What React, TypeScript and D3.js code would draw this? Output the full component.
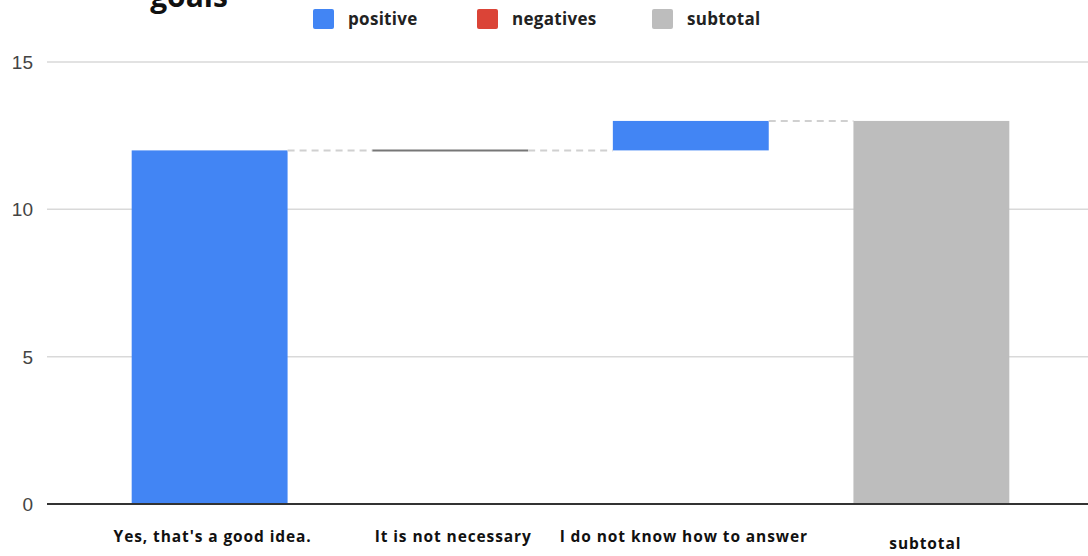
import React from "react";
import * as d3 from "d3";

const categories = ["Yes, that's a good idea.", "It is not necessary", "I do not know how to answer", "subtotal"];
const deltas = [12, 0, 1, 13];
const kinds = ["positive", "positive", "positive", "subtotal"];
const yTicks = [0, 5, 10, 15];
const legendLabels = ["positive", "negatives", "subtotal"];
const legendColors = ["#4285F4", "#DB4437", "#BDBDBD"];
const titleText = "goals";

const W = 1088;
const H = 556;

export default function App() {
  const x = d3.scaleBand<string>().domain(categories).range([47, 1094]).paddingInner(0.352).paddingOuter(0.352);
  const y = d3.scaleLinear().domain([0, 15]).range([504, 62]);

  let run = 0;
  const bars = categories.map((c, i) => {
    let start: number, end: number;
    if (kinds[i] === "subtotal") {
      start = 0;
      end = deltas[i];
      run = end;
    } else {
      start = run;
      end = run + deltas[i];
      run = end;
    }
    return { c, start, end, kind: kinds[i] };
  });

  const colorOf = (k: string) => (k === "subtotal" ? legendColors[2] : k === "negative" ? legendColors[1] : legendColors[0]);
  const bw = x.bandwidth();
  const labelY = [542, 542, 542, 549];
  const labelShift = [3, 3, -7, -6];
  const legendX = [313, 477, 652];

  return (
    <svg width={W} height={H} style={{ position: "absolute", left: 0, top: 0, background: "#fff" }}>
      <rect x={0} y={0} width={W} height={H} fill="#fff" />
      <text x={189} y={7} textAnchor="middle" fontFamily="'Open Sans', sans-serif" fontWeight={700} fontSize={30} fill="#111">
        {titleText}
      </text>
      {legendLabels.map((l, i) => (
        <g key={l}>
          <rect x={legendX[i]} y={9} width={21} height={20} rx={2} fill={legendColors[i]} />
          <text x={legendX[i] + 35} y={25} fontFamily="'Open Sans', sans-serif" fontWeight={700} fontSize={17} fill="#222" letterSpacing={0.3}>
            {l}
          </text>
        </g>
      ))}
      {yTicks.map((t) => (
        <g key={t}>
          {t !== 0 && <line x1={47} x2={W} y1={y(t)} y2={y(t)} stroke="#d9d9d9" strokeWidth={1.5} />}
          <text x={33} y={y(t) + 7} textAnchor="end" fontFamily="Arial, 'Liberation Sans', sans-serif" fontSize={19} fill="#444">
            {t}
          </text>
        </g>
      ))}
      {bars.map((b) => {
        const x0 = x(b.c)!;
        const top = y(Math.max(b.start, b.end));
        const bot = y(Math.min(b.start, b.end));
        const h = bot - top;
        return h > 0.5 ? (
          <rect key={b.c} x={x0} y={top} width={bw} height={h} fill={colorOf(b.kind)} />
        ) : (
          <line key={b.c} x1={x0} x2={x0 + bw} y1={top} y2={top} stroke="#777" strokeWidth={2} />
        );
      })}
      {bars.slice(0, -1).map((b, i) => {
        const next = bars[i + 1];
        return (
          <line
            key={"c" + i}
            x1={x(b.c)! + bw}
            x2={x(next.c)!}
            y1={y(b.end)}
            y2={y(b.end)}
            stroke="#d0d0d0"
            strokeWidth={2}
            strokeDasharray="7,5"
          />
        );
      })}
      <line x1={47} x2={W} y1={y(0)} y2={y(0)} stroke="#333" strokeWidth={2} />
      {categories.map((c, i) => (
        <text
          key={c}
          x={x(c)! + bw / 2 + labelShift[i]}
          y={labelY[i]}
          textAnchor="middle"
          fontFamily="'Open Sans', sans-serif"
          fontWeight={700}
          fontSize={15.5}
          letterSpacing={0.9}
          fill="#111"
        >
          {c}
        </text>
      ))}
    </svg>
  );
}
